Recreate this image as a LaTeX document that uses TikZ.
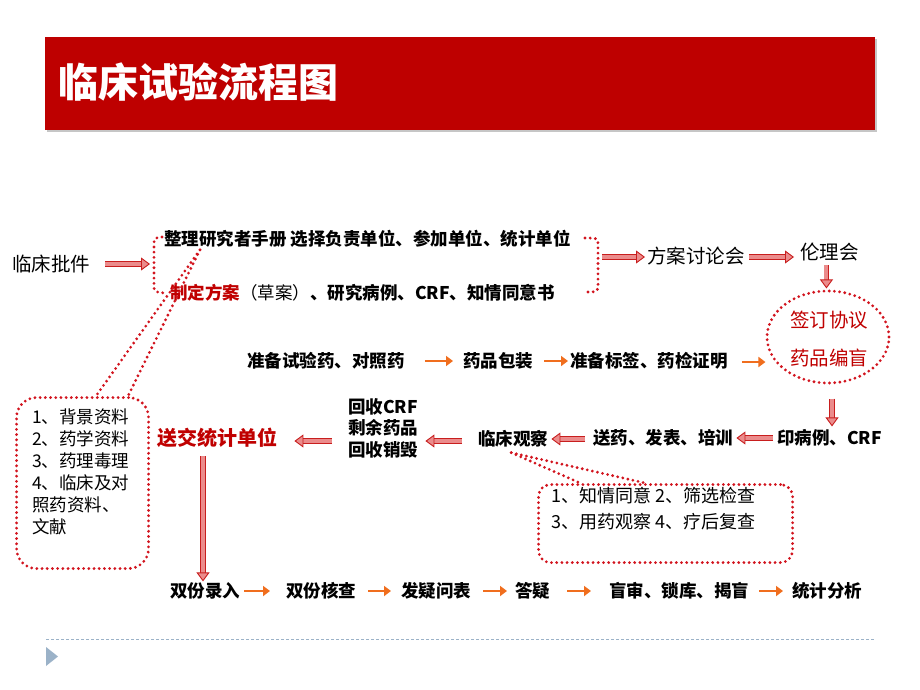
\documentclass[tikz,border=0pt]{standalone}
\usepackage{fontspec}
\setmainfont{Noto Sans CJK SC}
\usetikzlibrary{arrows.meta,shapes.geometric,calc}
\definecolor{titlered}{RGB}{190,0,0}
\definecolor{hred}{RGB}{200,30,30}
\definecolor{hpink}{RGB}{235,140,140}
\definecolor{dotred}{RGB}{210,20,30}
\definecolor{orangearr}{RGB}{240,110,30}
\definecolor{txtred}{RGB}{192,0,0}
\definecolor{footgray}{RGB}{155,178,200}
\begin{document}
\begin{tikzpicture}[x=1pt,y=-1pt,
  txt/.style={inner sep=0pt, anchor=west, font=\fontsize{17.5}{21.5}\selectfont\bfseries},
  ntxt/.style={inner sep=0pt, anchor=west, font=\fontsize{19.5}{23}\selectfont},
  ltxt/.style={inner sep=0pt, anchor=north west, align=left, font=\fontsize{17.5}{22}\selectfont},
  harrow/.style={draw=hred, line width=0.9pt, double=hpink, double distance=4pt, -{Triangle[open, length=9pt, width=13pt, fill=hpink, line width=0.9pt]}},
  oarrow/.style={draw=orangearr, line width=2.6pt, -{Triangle[length=7pt,width=10pt]}},
  dots/.style={draw=dotred, line width=3.1pt, line cap=round, dash pattern=on 0pt off 5.2pt}]
\useasboundingbox (0,0) rectangle (920,690);
\fill[white] (0,0) rectangle (920,690);
% title bar
\fill[gray!45] (47,39) rectangle (877,132);
\fill[titlered] (45,37) rectangle (875,130);
\node[inner sep=0pt, anchor=west, text=white, font=\fontsize{40}{44}\selectfont\bfseries] (title) at (58,82) {临床试验流程图};

% top row
\node[ntxt] (pj) at (12,264) {临床批件};
\node[txt] (zl) at (164,239) {整理研究者手册 选择负责单位、参加单位、统计单位};
\node[txt] (zd) at (170,293) {\textcolor{txtred}{制定方案}{\mdseries（草案）}、研究病例、CRF、知情同意书};
\draw[dots] (162,237) .. controls (154,238) .. (154,246) -- (154,284) .. controls (154,292) .. (165,293);
\coordinate (brL) at (150,264);
\draw[dots] (585,238) .. controls (598,238) .. (598,246) -- (598,284) .. controls (598,292) .. (585,292);
\coordinate (brR) at (602,257);
\draw[harrow] ($(pj.east)+(15,0)$) -- (brL);
\node[ntxt] (fa) at (647,256) {方案讨论会};
\draw[harrow] (brR) -- ($(fa.west)+(-2,1)$);
\node[ntxt] (ll) at (800,252) {伦理会};
\coordinate (f1) at ($(fa.east)+(4,1)$);
\coordinate (f2) at ($(ll.west)+(-6,0)$);
\draw[harrow] (f1) -- (f1 -| f2);

% ellipse
\node[dots, ellipse, minimum width=122pt, minimum height=92pt, inner sep=0pt] (el) at (828,337) {};
\node[ntxt, text=txtred] (qd) at (790,320) {签订协议};
\node[ntxt, text=txtred] (yp) at (790,358) {药品编盲};
\coordinate (e1) at ($(ll.south)+(-3,4)$);
\coordinate (e2) at ($(el.north)+(0,-1)$);
\draw[harrow] (e1) -- (e1 |- e2);

% second row
\node[txt] (zb) at (247,361) {准备试验药、对照药};
\node[txt] (bz) at (463,361) {药品包装};
\node[txt] (bq) at (570,361) {准备标签、药检证明};
\draw[oarrow] ($(zb.east)+(20,0)$) -- ($(bz.west)+(-10,0)$);
\draw[oarrow] ($(bz.east)+(11,0)$) -- ($(bq.west)+(-2,0)$);
\coordinate (o1) at ($(bq.east)+(14,1)$);
\draw[oarrow] (o1) -- (o1 -| el.west);

% third row
\node[txt] (yb) at (777,438) {印病例、CRF};
\node[txt] (sy) at (593,438) {送药、发表、培训};
\node[txt] (lc) at (478,439) {临床观察};
\node[txt, align=left, font=\fontsize{17.5}{21.5}\selectfont\bfseries] (hs) at (348,428) {回收CRF\\剩余药品\\回收销毁};
\node[inner sep=0pt, anchor=west, text=txtred, font=\fontsize{20}{24}\selectfont\bfseries] (sj) at (157,438) {送交统计单位};
\coordinate (d1) at ($(el.south)+(4,14)$);
\coordinate (d2) at ($(yb.north)+(0,-3)$);
\draw[harrow] (d1) -- (d1 |- d2);
\draw[harrow] ($(yb.west)+(-4,0)$) -- ($(sy.east)+(3,0)$);
\coordinate (a1) at ($(sy.west)+(-8,1)$);
\coordinate (a2) at ($(lc.east)+(3,0)$);
\draw[harrow] (a1) -- (a1 -| a2);
\coordinate (b1) at ($(lc.west)+(-16,2)$);
\coordinate (b2) at ($(hs.east)+(7,0)$);
\draw[harrow] (b1) -- (b1 -| b2);
\coordinate (c1) at ($(hs.west)+(-16,0)$);
\coordinate (c1) at (c1 |- b1);
\coordinate (c2) at ($(sj.east)+(17,0)$);
\draw[harrow] (c1) -- (c1 -| c2);

% left callout box
\node[dots, rounded corners=20pt, minimum width=132pt, minimum height=171pt, anchor=north west, inner sep=0pt] (lb) at (15,396) {};
\node[ltxt] (lt) at (32,409) {1、背景资料\\2、药学资料\\3、药理毒理\\4、临床及对\\照药资料、\\文献};
\coordinate (tipL) at ($(zl.south west)+(36,2)$);
\draw[dots] (tipL) -- ($(lb.north west)+(81,0)$);
\draw[dots] (tipL) -- ($(lb.north west)+(113,0)$);

% right callout box
\node[dots, rounded corners=12pt, minimum width=254pt, minimum height=78pt, anchor=north west, inner sep=0pt] (rb) at (537,483) {};
\node[ltxt, font=\fontsize{18}{26}\selectfont] (rt) at (551,487) {1、知情同意 2、筛选检查\\3、用药观察 4、疗后复查};
\coordinate (tipR) at ($(lc.south)+(-2,5)$);
\draw[dots] (tipR) -- ($(rb.north west)+(43,0)$);
\draw[dots] (tipR) -- ($(rb.north west)+(108,0)$);

% bottom row
\node[txt] (sr) at (170,591) {双份录入};
\node[txt] (hc) at (286,591) {双份核查};
\node[txt] (fy) at (401,591) {发疑问表};
\node[txt] (dy) at (515,591) {答疑};
\node[txt] (ms) at (609,591) {盲审、锁库、揭盲};
\node[txt] (tj) at (792,591) {统计分析};
\coordinate (s1) at ($(sj.south west)+(46,8)$);
\coordinate (s2) at ($(sr.north)+(0,-1)$);
\draw[harrow] (s1) -- (s1 |- s2);
\draw[oarrow] ($(sr.east)+(4,0)$) -- ($(hc.west)+(-16,0)$);
\draw[oarrow] ($(hc.east)+(12,0)$) -- ($(fy.west)+(-10,0)$);
\draw[oarrow] ($(fy.east)+(12,0)$) -- ($(dy.west)+(-8,0)$);
\draw[oarrow] ($(dy.east)+(17,0)$) -- ($(ms.west)+(-18,0)$);
\draw[oarrow] ($(ms.east)+(10,0)$) -- ($(tj.west)+(-9,0)$);

% footer
\draw[footgray, line width=0.8pt, dash pattern=on 3pt off 2pt] (46,639) -- (875,639);
\fill[footgray] (46,647) -- (58,656.5) -- (46,666) -- cycle;
\end{tikzpicture}
\end{document}
